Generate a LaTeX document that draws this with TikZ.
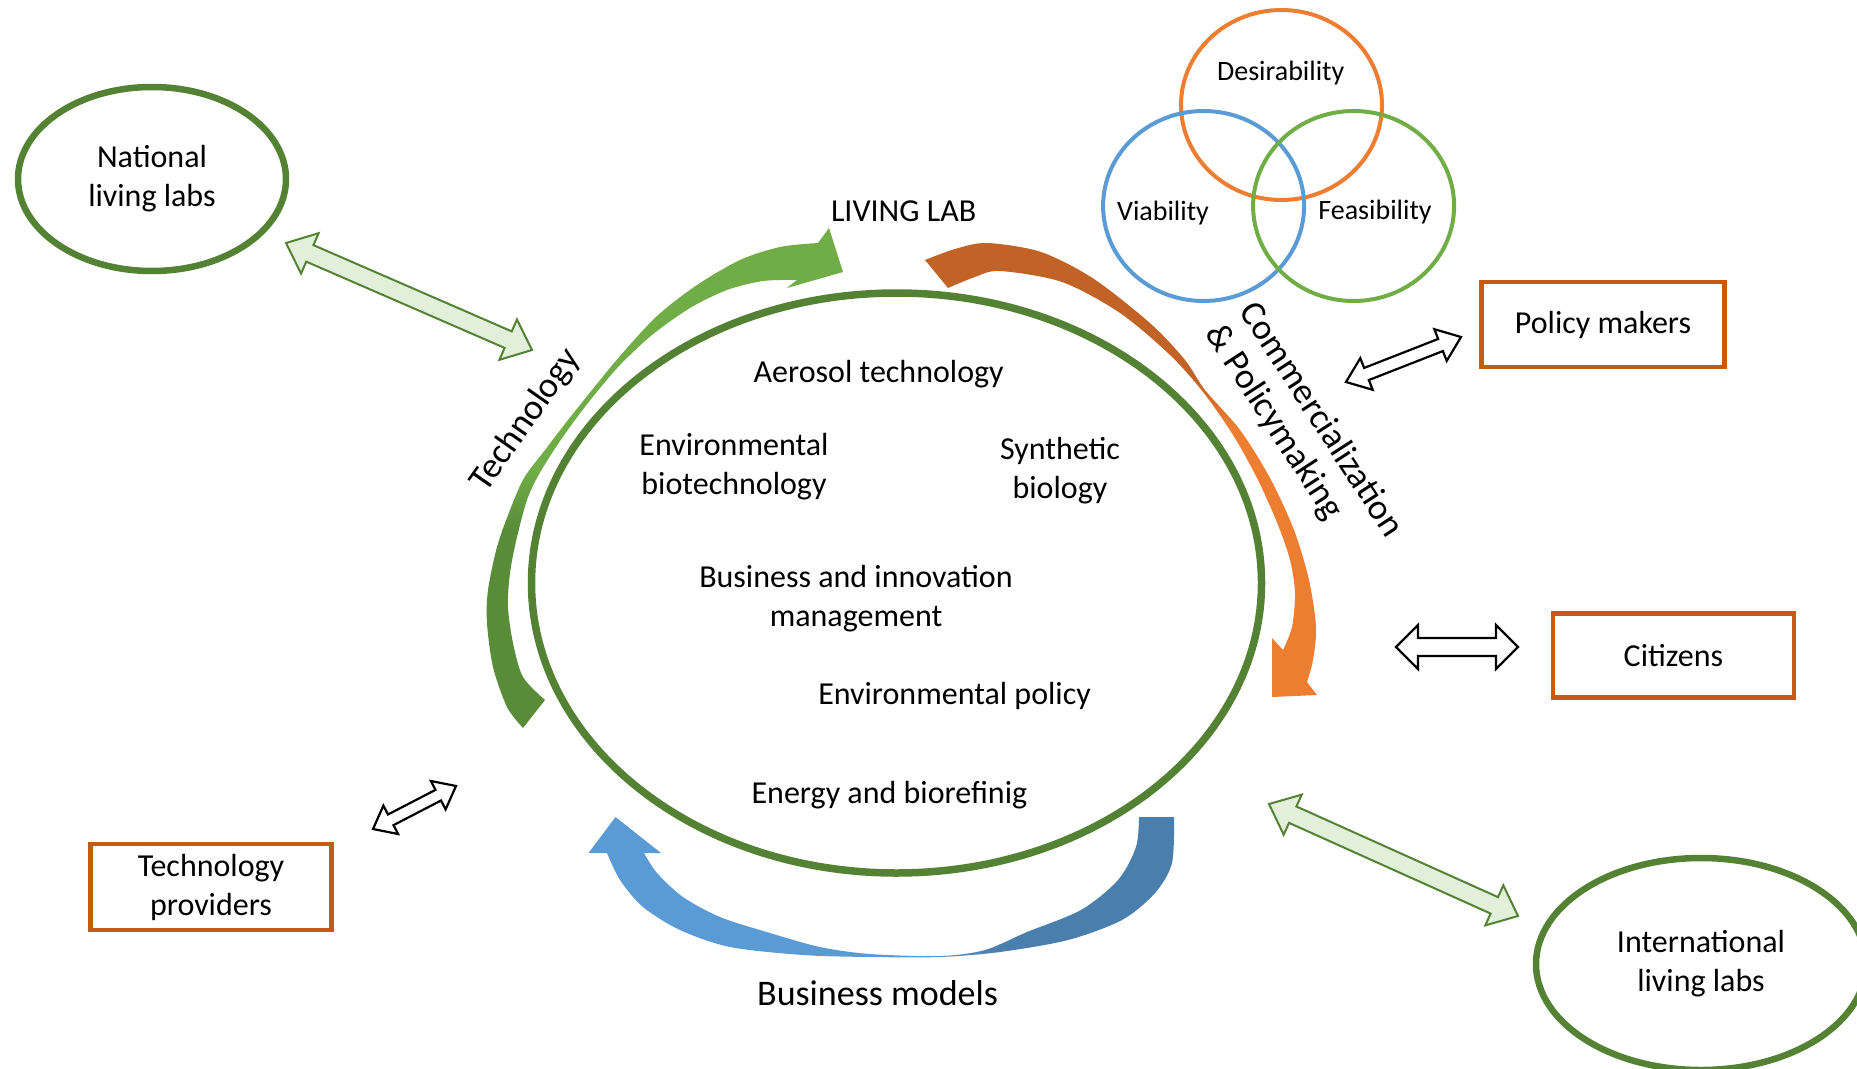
\documentclass[tikz,border=0pt]{standalone}
\usepackage{fontspec}
\setmainfont{Carlito}
\usetikzlibrary{calc,shapes.geometric}
\definecolor{egreen}{RGB}{84,130,53}
\definecolor{lgreen}{RGB}{226,239,218}
\definecolor{boxor}{RGB}{197,90,17}
\definecolor{vor}{RGB}{237,125,49}
\definecolor{vblue}{RGB}{91,155,213}
\definecolor{vgreen}{RGB}{112,173,71}
\definecolor{gdark}{RGB}{88,140,57}
\definecolor{odark}{RGB}{193,99,38}
\definecolor{bdark}{RGB}{74,126,173}
\newcommand\blockdbl[6]{%
  \path[#1] ($(#2)!#6!(#3)!#4!90:(#3)$) -- ($(#2)!#6!(#3)!#5!90:(#3)$) -- (#2)
   -- ($(#2)!#6!(#3)!#5!-90:(#3)$) -- ($(#2)!#6!(#3)!#4!-90:(#3)$)
   -- ($(#3)!#6!(#2)!#4!90:(#2)$) -- ($(#3)!#6!(#2)!#5!90:(#2)$) -- (#3)
   -- ($(#3)!#6!(#2)!#5!-90:(#2)$) -- ($(#3)!#6!(#2)!#4!-90:(#2)$) -- cycle;}
\begin{document}
\begin{tikzpicture}[x=1pt,y=-1pt,
 body/.style={font=\fontsize{32}{39}\selectfont, align=center, inner sep=0pt},
 venntxt/.style={font=\fontsize{28}{34}\selectfont, inner sep=0pt},
 lab/.style={ellipse, draw=egreen, line width=6.5pt, inner sep=0pt, body},
 actor/.style={rectangle, draw=boxor, line width=4.5pt, inner sep=0pt, body},
 vcircle/.style={ellipse, line width=4pt, inner sep=0pt, minimum width=201pt, minimum height=190pt},
 greenblk/.style={fill=lgreen, draw=egreen, line width=2pt, line join=miter},
 blackblk/.style={fill=white, draw=black, line width=2.2pt, line join=miter},
 bigtxt/.style={font=\fontsize{36}{40.4}\selectfont, inner sep=0pt}]
\useasboundingbox (0,0) rectangle (1857,1068);
\clip (0,0) rectangle (1857,1068);

% main living lab ellipse
\node[ellipse, draw=egreen, line width=7.5pt, minimum width=730pt, minimum height=580pt, inner sep=0pt] (lab) at (896.5,583) {};

% Technology arrow (green)
\begin{scope}
\clip plot[smooth] coordinates {(523,728) (507,707) (493,667) (487,623) (488,590) (497,547) (510,510) (524,478) (545,450) (568,420) (592,390) (620,356) (657,316) (697,285) (740,260) (780,247) (818,243)}
 -- (829,228) -- (843,272) -- (787,288)
 -- plot[smooth] coordinates {(797,280) (763,281) (727,290) (690,308) (652,335) (620,365) (596,393) (575,420) (556,447) (538,476) (527,500) (517,537) (510,573) (508,607) (513,643) (523,677) (545,700)} -- cycle;
\fill[vgreen] (450,200) rectangle (900,471);
\shade[top color=vgreen, bottom color=gdark] (450,470) rectangle (900,530);
\fill[gdark] (450,529) rectangle (900,760);
\end{scope}

% Commercialization arrow (orange)
\begin{scope}
\clip plot[smooth] coordinates {(925,260) (955,249) (987,243) (1041,252) (1094,279) (1151,324) (1185,360) (1205,390) (1240,430) (1270,478) (1294,530) (1309,580) (1316,627) (1313,660) (1307,682)}
 -- (1317,695) -- (1272,697) -- (1272,638)
 -- plot[smooth] coordinates {(1283,650) (1292,627) (1295,593) (1290,560) (1278,525) (1258,480) (1233,435) (1203,392) (1170,355) (1120,313) (1062,282) (1000,271) (975,277) (948,288)} -- cycle;
\fill[odark] (900,220) rectangle (1340,381);
\shade[top color=odark, bottom color=vor] (900,380) rectangle (1340,425);
\fill[vor] (900,424) rectangle (1340,720);
\end{scope}

% Business models arrow (blue)
\begin{scope}
\clip plot[smooth] coordinates {(1174,817) (1172,863) (1155,893) (1122,920) (1068,940) (1000,952) (940,957) (870,957) (803,955) (730,947) (680,930) (643,907) (620,880) (607,853)}
 -- (588.5,853) -- (615.5,817) -- (661,853)
 -- plot[smooth] coordinates {(644,853) (657,873) (683,897) (720,917) (770,933) (820,947) (870,954) (940,956) (985,950) (1027,932) (1081,910) (1118,880) (1136,847) (1139,817)} -- cycle;
\fill[vblue] (570,800) rectangle (921,980);
\shade[left color=vblue, right color=bdark] (920,800) rectangle (1000,980);
\fill[bdark] (999,800) rectangle (1190,980);
\end{scope}

% labels of the cycle
\node[body] (livinglab) at (903.6,210.8) {LIVING LAB};
\node[bigtxt, rotate=55] (techlbl) at (525.8,420.4) {Technology};
\node[bigtxt, rotate=-57, align=left] (comlbl) at (1303.6,431.4) {Commercialization\\\& Policymaking};
\node[bigtxt] (bmlbl) at (877.6,993.6) {Business models};

% inner texts
\node[body] (t1) at (878.7,374.2) {Aerosol technology};
\node[body] (t2) at (734,467) {Environmental\\biotechnology};
\node[body] (t3) at (1060,471) {Synthetic\\biology};
\node[body] (t4) at (856,599) {Business and innovation\\management};
\node[body] (t5) at (954.6,696.4) {Environmental policy};
\node[body] (t6) at (889.4,794.7) {Energy and biorefinig};

% living labs
\node[lab, minimum width=268pt, minimum height=184pt] (nat) at (152,179) {National\\living labs};
\node[lab, minimum width=330pt, minimum height=212pt] (int) at (1701,964) {International\\living labs};

% Venn diagram
\node[vcircle, draw=vor] (des) at (1281.5,105) {};
\node[vcircle, draw=vblue] (via) at (1203.6,206) {};
\node[vcircle, draw=vgreen] (fea) at (1353.6,206) {};
\node[venntxt] (dest) at (1280.7,72.7) {Desirability};
\node[venntxt] (viat) at (1163,213) {Viability};
\node[venntxt] (feat) at (1375,212.5) {Feasibility};

% actors
\node[actor, minimum width=243pt, minimum height=85pt] (pol) at (1603,324.5) {Policy makers};
\node[actor, minimum width=241pt, minimum height=84pt] (cit) at (1673.4,655.5) {Citizens};
\node[actor, minimum width=241pt, minimum height=86pt] (tp) at (211,887) {Technology\\providers};

% block double arrows
\coordinate (ga1) at (286,243); \coordinate (gb1) at (532,350);
\coordinate (ga2) at (1269,804); \coordinate (gb2) at (1518,916);
\coordinate (pa) at (1346,382); \coordinate (pb) at (1461,337);
\coordinate (ca) at (1396,647); \coordinate (cb) at (1518,647);
\coordinate (ta) at (373,829); \coordinate (tb) at (456,786);
\blockdbl{greenblk}{ga1}{gb1}{9pt}{22pt}{26pt}
\blockdbl{greenblk}{ga2}{gb2}{9pt}{22pt}{26pt}
\blockdbl{blackblk}{pa}{pb}{6.5pt}{17pt}{22pt}
\blockdbl{blackblk}{ca}{cb}{9pt}{22pt}{22pt}
\blockdbl{blackblk}{ta}{tb}{6pt}{16pt}{20pt}
\end{tikzpicture}
\end{document}
